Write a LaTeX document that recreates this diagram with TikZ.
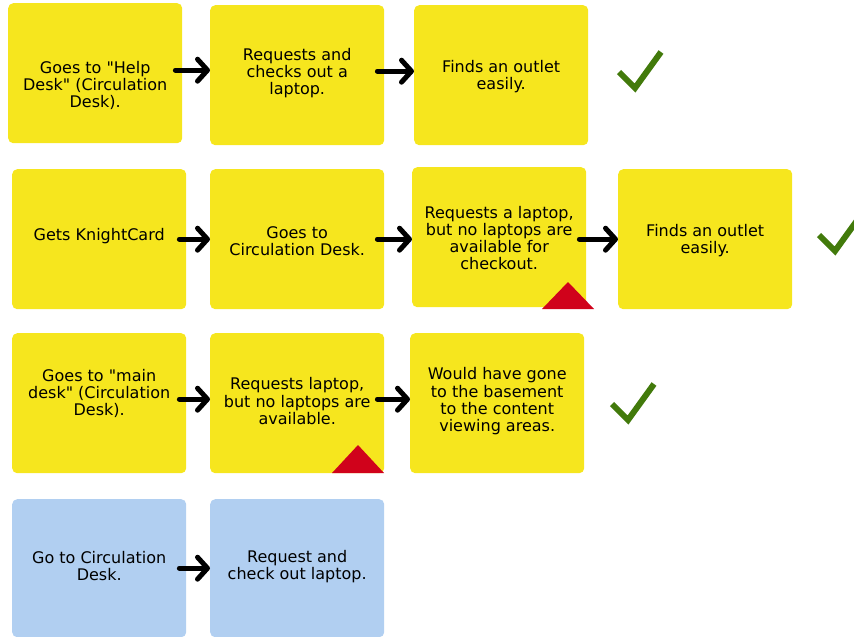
\documentclass[tikz,border=0pt]{standalone}
\usepackage{fontspec}
\setmainfont{DejaVu Sans}
\usetikzlibrary{arrows.meta}
\definecolor{stickyyellow}{HTML}{F6E61E}
\definecolor{stickyblue}{HTML}{B1CFF1}
\definecolor{warnred}{HTML}{D0021B}
\definecolor{checkgreen}{HTML}{427A0B}
\tikzset{
  sticky/.style={rounded corners=5pt, minimum width=174pt, minimum height=140pt, inner sep=0pt, anchor=north west},
  ybox/.style={sticky, fill=stickyyellow},
  bbox/.style={sticky, fill=stickyblue, minimum height=138pt},
  txt/.style={align=center, font=\fontsize{16}{17.2}\selectfont, text=black},
  arr/.style={line width=5pt, line cap=round, -{Straight Barb[round, length=10pt, width=22pt, line width=5pt]}, shorten <=-7pt, shorten >=0pt},
  tick/.style={draw=checkgreen, line width=6pt, line join=miter},
  warn/.style={fill=warnred}
}
\newcommand{\dq}{\textquotedbl}
\begin{document}
\begin{tikzpicture}[x=1pt,y=-1pt]
\useasboundingbox (0,0) rectangle (854,637);
% row 1
\node[ybox, label={[txt, yshift=-12pt]center:{Goes to \dq Help\\Desk\dq\ (Circulation\\Desk).}}] (a1) at (8,3) {};
\node[ybox, label={[txt, yshift=2pt]center:{Requests and\\checks out a\\laptop.}}] (a2) at (210,5) {};
\node[ybox, label={[txt, yshift=-1pt]center:{Finds an outlet\\easily.}}] (a3) at (414,5) {};
\draw[arr] ([yshift=3pt]a1.east) -- ([yshift=3pt]a1.east -| a2.west);
\draw[arr] ([yshift=4pt]a2.east) -- ([yshift=4pt]a2.east -| a3.west);
\draw[tick] (619,72) -- (635,88) -- (661,52);
% row 2
\node[ybox, label={[txt, yshift=3pt]center:{Gets KnightCard}}] (b1) at (12,169) {};
\node[ybox, label={[txt, yshift=-2pt]center:{Goes to\\Circulation Desk.}}] (b2) at (210,169) {};
\node[ybox, label={[txt, yshift=-1pt]center:{Requests a laptop,\\but no laptops are\\available for\\checkout.}}] (b3) at (412,167) {};
\node[ybox, label={[txt, yshift=-1pt]center:{Finds an outlet\\easily.}}] (b4) at (618,169) {};
\draw[arr] (b1.east) -- (b1.east -| b2.west);
\draw[arr] (b2.east) -- (b2.east -| b3.west);
\draw[arr] ([yshift=-2pt]b3.east) -- ([yshift=-2pt]b3.east -| b4.west);
\fill[warn] (542,309) -- (568,282) -- (594,309) -- cycle;
\draw[tick] (819,235) -- (835,251) -- (861,215);
% row 3
\node[ybox, label={[txt, yshift=10pt]center:{Goes to \dq main\\desk\dq\ (Circulation\\Desk).}}] (c1) at (12,333) {};
\node[ybox, label={[txt, yshift=2pt]center:{Requests laptop,\\but no laptops are\\available.}}] (c2) at (210,333) {};
\node[ybox, label={[txt, yshift=2pt]center:{Would have gone\\to the basement\\to the content\\viewing areas.}}] (c3) at (410,333) {};
\draw[arr] ([yshift=4pt]c1.east) -- ([yshift=4pt]c1.east -| c2.west);
\draw[arr] ([yshift=4pt]c2.east) -- ([yshift=4pt]c2.east -| c3.west);
\fill[warn] (332,473) -- (358,445) -- (384,473) -- cycle;
\draw[tick] (612,404) -- (628,420) -- (654,384);
% row 4
\node[bbox, label={[txt, yshift=2pt]center:{Go to Circulation\\Desk.}}] (d1) at (12,499) {};
\node[bbox, label={[txt, yshift=2pt]center:{Request and\\check out laptop.}}] (d2) at (210,499) {};
\draw[arr] (d1.east) -- (d1.east -| d2.west);
\end{tikzpicture}
\end{document}
